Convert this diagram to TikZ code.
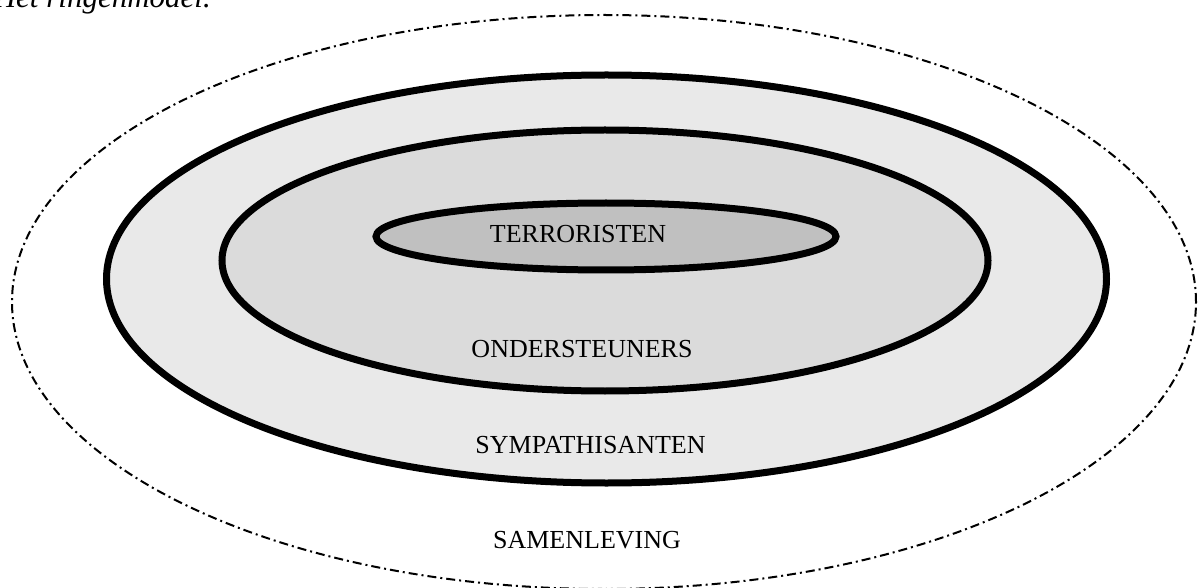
\documentclass[tikz,border=0pt]{standalone}
\usepackage{fontspec}
\setmainfont{Liberation Serif}
\definecolor{ringA}{HTML}{E9E9E9}
\definecolor{ringB}{HTML}{DBDBDB}
\definecolor{ringC}{HTML}{C0C0C0}
\begin{document}
\begin{tikzpicture}[x=1pt,y=-1pt,
  ring/.style={draw=black,line width=7pt},
  outerring/.style={draw=black,line width=2pt,dash pattern=on 9pt off 4pt on 2pt off 4pt},
  lbl/.style={anchor=base,inner sep=0pt,font=\fontsize{26}{30}\selectfont}]
\useasboundingbox (0,0) rectangle (1200,588);
\clip (0,0) rectangle (1200,588);
\fill[white] (0,0) rectangle (1200,588);
\draw[outerring] (604,302) ellipse [x radius=592pt, y radius=287pt];
\draw[ring,fill=ringA] (606.5,279) ellipse [x radius=500pt, y radius=204pt];
\draw[ring,fill=ringB] (605,260.5) ellipse [x radius=383pt, y radius=130.5pt];
\draw[ring,fill=ringC] (606,236.5) ellipse [x radius=230pt, y radius=33.5pt];
\node[lbl] (terr) at (578,243) {TERRORISTEN};
\node[lbl] (onder) at (582,357) {ONDERSTEUNERS};
\node[lbl] (symp) at (590.5,453) {SYMPATHISANTEN};
\node[lbl] (samen) at (587,548) {SAMENLEVING};
\node[anchor=base east,inner sep=0pt,font=\fontsize{31}{36}\selectfont\itshape] (title) at (211,8) {Het ringenmodel.};
\end{tikzpicture}
\end{document}
